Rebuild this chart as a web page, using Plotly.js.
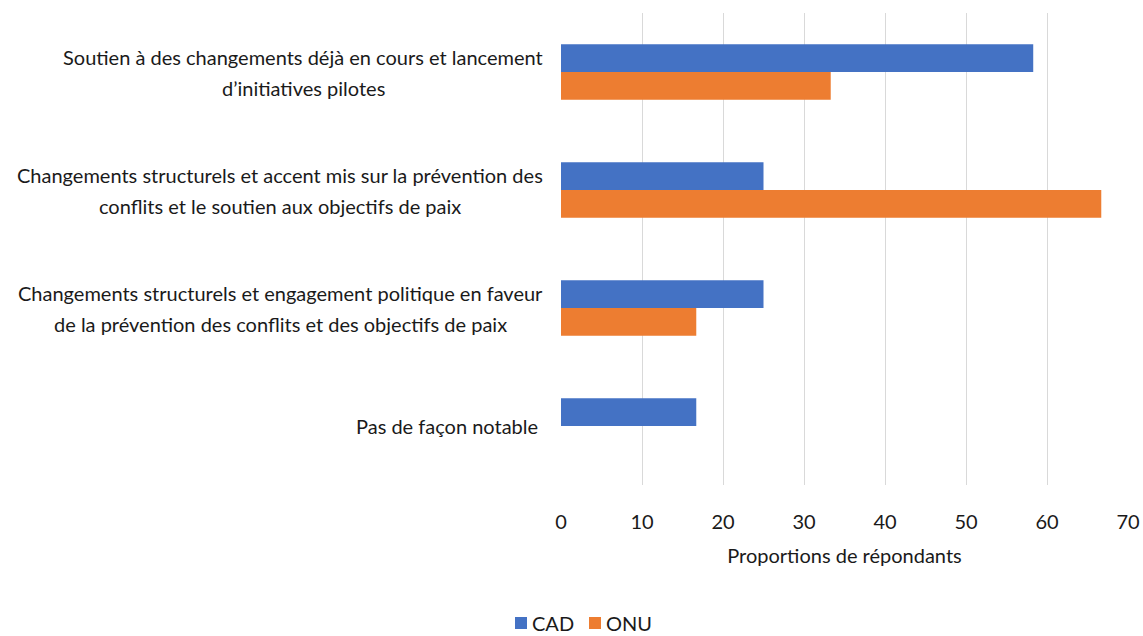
<!DOCTYPE html>
<html>
<head>
<meta charset="utf-8">
<script src="https://cdn.plot.ly/plotly-3.0.1.min.js"></script>
<style>html,body{margin:0;padding:0;background:#fff;}#chart{width:1143px;height:636px;}</style>
</head>
<body>
<div id="chart"></div>
<script>
const categories = [
  "Soutien à des changements déjà en cours et lancement<br>d’initiatives pilotes",
  "Changements structurels et accent mis sur la prévention des<br>conflits et le soutien aux objectifs de paix",
  "Changements structurels et engagement politique en faveur<br>de la prévention des conflits et des objectifs de paix",
  "Pas de façon notable "
];
const cadValues = [58.3, 25, 25, 16.7];
const onuValues = [33.3, 66.7, 16.7, 0];
const seriesNames = ["CAD", "ONU"];
const seriesColors = ["#4472C4", "#ED7D31"];
const xTitle = "Proportions de répondants";

const FONT = "Lato, sans-serif";
const FS = 20;
const TXT = "#1a1a1a";

// layout geometry (pixels)
const W = 1143, H = 636;
const M = {l: 561, r: 15, t: 13, b: 151};
const plotW = W - M.l - M.r, plotH = H - M.t - M.b;
const pxToPaperX = px => (px - M.l) / plotW;
const pxToPaperY = py => (H - M.b - py) / plotH;

const traces = seriesNames.map((n, i) => ({
  type: "bar", orientation: "h", name: n, y: categories,
  x: i === 0 ? cadValues : onuValues,
  marker: {color: seriesColors[i]}, hoverinfo: "x"
}));

// category labels: centered block, right edge at 543px, line spacing 31px
const ctx = document.createElement("canvas").getContext("2d");
ctx.font = FS + "px Lato";
const labelRight = 543, lineGap = 31;
const annotations = [];
categories.forEach(c => {
  const lines = c.split("<br>").map(l => l.replace(/ $/, "\u00a0"));
  const maxW = Math.max(...lines.map(l => ctx.measureText(l).width));
  const cx = labelRight - maxW / 2;
  lines.forEach((l, k) => {
    annotations.push({
      xref: "paper", yref: "y", x: pxToPaperX(cx), y: c,
      yshift: -((k - (lines.length - 1) / 2) * lineGap),
      xanchor: "center", yanchor: "middle",
      text: l, showarrow: false,
      font: {family: FONT, size: FS, color: TXT}
    });
  });
});

// legend (manual to match spacing)
const legendY = 623;
const legendSquares = [515, 589];
const shapes = [];
seriesNames.forEach((n, i) => {
  shapes.push({
    type: "rect", xref: "paper", yref: "paper",
    x0: pxToPaperX(legendSquares[i]), x1: pxToPaperX(legendSquares[i] + 12),
    y0: pxToPaperY(legendY + 6), y1: pxToPaperY(legendY - 6),
    fillcolor: seriesColors[i], line: {width: 0}
  });
  annotations.push({
    xref: "paper", yref: "paper",
    x: pxToPaperX(legendSquares[i] + 15), y: pxToPaperY(legendY),
    xanchor: "left", yanchor: "middle", text: n, showarrow: false,
    font: {family: FONT, size: FS, color: TXT}
  });
});

const layout = {
  width: W, height: H,
  margin: M,
  paper_bgcolor: "#fff", plot_bgcolor: "#fff",
  barmode: "group", bargap: 0.53, bargroupgap: 0,
  font: {family: FONT, size: FS, color: TXT},
  xaxis: {
    range: [0, 70], dtick: 10, tick0: 0,
    showgrid: true, gridcolor: "#d9d9d9", gridwidth: 1,
    zeroline: false, showline: false,
    ticks: "",
    ticklabelstandoff: 23,
    tickfont: {family: FONT, size: FS, color: TXT},
    title: {text: xTitle, standoff: 16, font: {family: FONT, size: FS, color: TXT}}
  },
  yaxis: {
    autorange: "reversed", showticklabels: false, showgrid: false,
    zeroline: false, showline: false, ticks: ""
  },
  showlegend: false,
  shapes: shapes,
  annotations: annotations
};

Plotly.newPlot("chart", traces, layout, {displayModeBar: false, staticPlot: true});
</script>
</body>
</html>
